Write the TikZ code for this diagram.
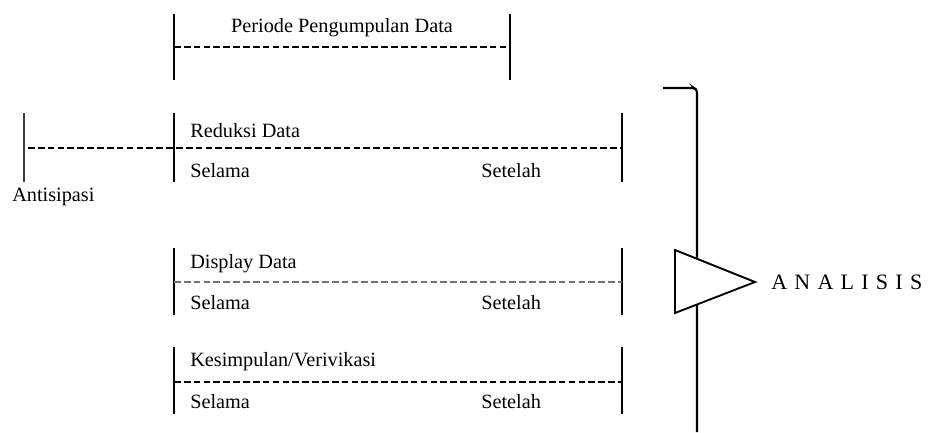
\documentclass[tikz,border=0pt]{standalone}
\usepackage{fontspec}
\setmainfont{Liberation Serif}
\begin{document}
\begin{tikzpicture}[x=0.75pt,y=-0.75pt,
  bar/.style={line width=1.6pt,black},
  dashline/.style={line width=1.4pt,dash pattern=on 5pt off 2.4pt,black},
  lbl/.style={inner sep=0pt,anchor=west,font=\fontsize{15.2pt}{17pt}\selectfont},
]
\useasboundingbox (0,0) rectangle (928,432);
% top block
\coordinate (t1a) at (174,14); \coordinate (t1b) at (174,80);
\coordinate (t2a) at (510,14); \coordinate (t2b) at (510,80);
\coordinate (tdl) at (174,47); \coordinate (tdr) at (510,47);
\draw[bar] (t1a) -- (t1b);
\draw[bar] (t2a) -- (t2b);
\draw[dashline] (tdl) -- (tdr);
\node[lbl,anchor=center] (periode) at (342,28) {Periode Pengumpulan Data};
% antisipasi
\coordinate (a1) at (24,113); \coordinate (a2) at (24,182);
\draw[line width=1.1pt,black!75] (a1) -- (a2);
\node[lbl] (antis) at (12,197) {Antisipasi};
% reduksi
\coordinate (r1a) at (174,113); \coordinate (r1b) at (174,182);
\coordinate (r2a) at (622,113); \coordinate (r2b) at (622,182);
\coordinate (rdl) at (28,148); \coordinate (rdr) at (622,148);
\draw[bar] (r1a) -- (r1b);
\draw[bar] (r2a) -- (r2b);
\draw[dashline] (rdl) -- (rdr);
\node[lbl] (red) at (190,131) {Reduksi Data};
\node[lbl] (rsel) at (190,171) {Selama};
\node[lbl] (rset) at (481,171) {Setelah};
% display
\coordinate (d1a) at (174,248); \coordinate (d1b) at (174,315);
\coordinate (d2a) at (622,248); \coordinate (d2b) at (622,315);
\coordinate (ddl) at (174,282); \coordinate (ddr) at (622,282);
\draw[bar] (d1a) -- (d1b);
\draw[bar] (d2a) -- (d2b);
\draw[line width=1pt,dash pattern=on 5pt off 2.4pt,black!55] (ddl) -- (ddr);
\node[lbl] (disp) at (190,264) {Display Data};
\node[lbl] (dsel) at (190,303) {Selama};
\node[lbl] (dset) at (481,303) {Setelah};
% kesimpulan
\coordinate (k1a) at (174,347); \coordinate (k1b) at (174,414);
\coordinate (k2a) at (622,347); \coordinate (k2b) at (622,414);
\coordinate (kdl) at (174,382); \coordinate (kdr) at (622,382);
\draw[bar] (k1a) -- (k1b);
\draw[bar] (k2a) -- (k2b);
\draw[dashline] (kdl) -- (kdr);
\node[lbl] (kes) at (190,362) {Kesimpulan/Verivikasi};
\node[lbl] (ksel) at (190,402) {Selama};
\node[lbl] (kset) at (481,402) {Setelah};
% bracket
\coordinate (b0) at (663,88); \coordinate (b1) at (697,90); \coordinate (b2) at (697,432);
\draw[line width=1.6pt,rounded corners=2pt] (b0) -- (694,88) -- (b1) -- (b2);
% triangle
\coordinate (tr1) at (675,250); \coordinate (tr2) at (755,282); \coordinate (tr3) at (675,313);
\draw[line width=1.4pt,fill=white,line join=miter] (tr1) -- (tr2) -- (tr3) -- cycle;
\node[lbl,font=\fontsize{16.5pt}{18pt}\selectfont\addfontfeature{LetterSpace=33}] (anal) at (771,282) {ANALISIS};
\end{tikzpicture}
\end{document}
